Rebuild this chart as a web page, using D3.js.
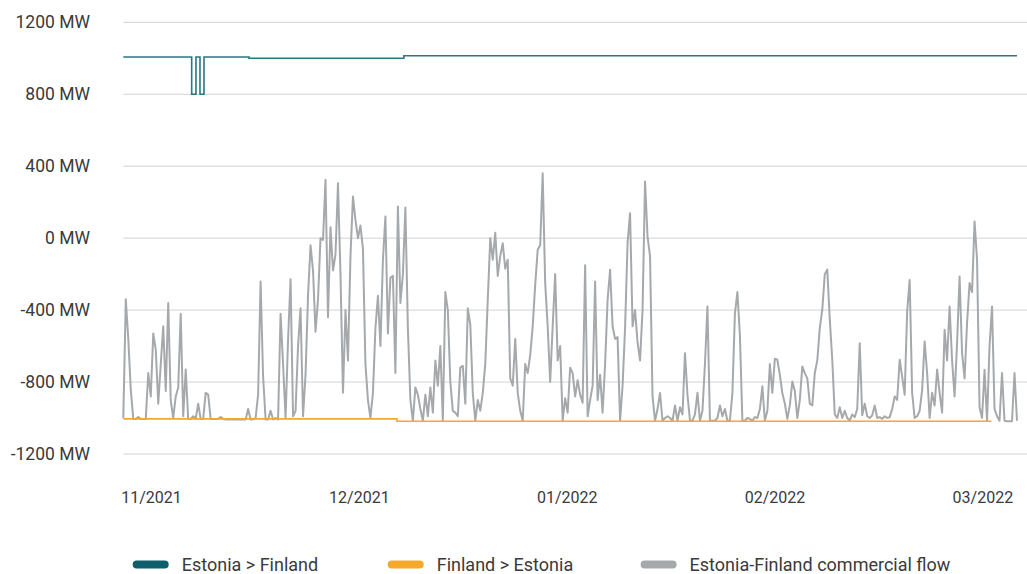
<!DOCTYPE html>
<html>
<head>
<meta charset="utf-8">
<script src="https://cdn.jsdelivr.net/npm/d3@7"></script>
<style>
  body { margin: 0; background: #fff; }
  svg text { font-family: Roboto, "Noto Sans", sans-serif; fill: #3a3a3a; }
</style>
</head>
<body>
<script>
// y axis ticks (MW)
const yTicks = [1200, 800, 400, 0, -400, -800, -1200];

// x axis: days from start of data, labels every 30 days
const totalDays = 129;
const xTickDays = [4, 34, 64, 94, 124];
const xTickLabels = ["11/2021", "12/2021", "01/2022", "02/2022", "03/2022"];

// Estonia > Finland capacity (step changes)
const estFiDay = [0, 9.87, 10.49, 11.07, 11.65, 18.14, 40.5, 129];
const estFiMW = [1007, 800, 1007, 800, 1007, 1000, 1014, 1014];

// Finland > Estonia capacity (negative direction)
const fiEstDay = [0, 39.5, 125.3];
const fiEstMW = [-1005, -1018, -1018];

// Estonia-Finland commercial flow, evenly spaced samples over the whole period
const flowMW = [
  -1000, -340, -560, -843, -1005, -1005, -995, -1005, -1005, -1005,
  -750, -880, -530, -620, -920, -700, -490, -850, -360, -900,
  -1000, -880, -830, -420, -990, -730, -1005, -1005, -990, -1005,
  -920, -1005, -1005, -860, -870, -1005, -1005, -1005, -1005, -995,
  -1005, -1008, -1008, -1008, -1008, -1008, -1008, -1008, -1008, -1008,
  -950, -1008, -1008, -1000, -870, -241, -770, -1008, -1008, -960,
  -1008, -1000, -1008, -420, -700, -1000, -565, -228, -990, -960,
  -600, -390, -990, -760, -320, -40, -180, -520, -340, 0,
  -10, 324, -440, 60, -180, -90, 305, -200, -860, -400,
  -680, -100, 231, 100, 0, 70, -60, -700, -900, -1000,
  -860, -500, -320, -600, -120, 120, -530, -220, -210, -750,
  176, -360, -200, 170, -500,
  -900, -1015, -830, -870, -950,
  -1015, -870, -990, -830, -970, -680, -820, -600, -1015, -300,
  -400, -800, -960, -970, -990, -720, -710, -920, -390, -480,
  -860, -1015, -900, -960, -860, -700, -343, 0, -120, 30,
  -210, -100, -28, -170, -120, -780, -820, -560, -860, -960,
  -1015, -700, -750, -650, -490, -260, -65, -40, 361, -250,
  -490, -800, -490, -200, -680, -600, -1015, -890, -970, -720,
  -750, -880, -790, -870, -915, -150, -990, -900, -820, -241,
  -900, -760, -970, -700, -343, -176, -490, -560, -550, -1015,
  -820, -500, -28, 139, -490, -400, -580, -680, -400, 315,
  9, -100, -880, -1015, -950, -861, -1015, -1000, -990, -1000,
  -1015, -930, -1015, -940, -980, -640, -870, -1015, -1015, -980, -860,
  -1015, -960, -700, -380, -1015, -1015, -1015, -1000, -930,
  -990, -950, -1015, -1015, -860, -420, -300, -540, -1015, -1015,
  -1000, -1005, -1015, -995, -1000, -950, -824, -1015, -960, -700,
  -860, -670, -676, -760, -861, -920, -1005, -930, -797, -850,
  -1000, -900, -713, -750, -780, -920, -930, -750, -680, -500,
  -398, -200, -175, -450, -676, -980, -1000, -940, -1000, -960,
  -1000, -1015, -980, -995, -950, -584, -985, -920, -990, -1000,
  -985, -930, -1000, -995, -1005, -990, -1000, -995, -950, -880,
  -900, -676, -770, -870, -407, -232, -860, -1000, -990, -960,
  -843, -574, -750, -1000, -860, -930, -730, -860, -970, -509,
  -680, -380, -680, -880, -580, -213, -640, -780, -470, -250,
  -300, 93, -120, -940, -1000, -732, -1015, -600, -380, -950,
  -990, -1015, -750, -1015, -1018, -1018, -1018, -750, -1015
];

const legendNames = ["Estonia > Finland", "Finland > Estonia", "Estonia-Finland commercial flow"];
const colors = ["#0d5f6b", "#f3aa2a", "#a6a9ac"];

const width = 1027, height = 574;

const svg = d3.select("body").append("svg")
  .attr("width", width)
  .attr("height", height);

const x = d3.scaleLinear().domain([0, totalDays]).range([123.3, 1017]);
const y = d3.scaleLinear().domain([-1200, 1200]).range([454, 22.3]);
const xFlow = d3.scaleLinear().domain([0, flowMW.length - 1]).range([x(0), x(totalDays)]);

// gridlines
svg.append("g")
  .selectAll("line")
  .data(yTicks)
  .join("line")
  .attr("x1", x(0))
  .attr("x2", width)
  .attr("y1", d => y(d))
  .attr("y2", d => y(d))
  .attr("stroke", "#d3d3d3")
  .attr("stroke-width", 1);

// y axis labels
const yAxis = svg.append("g")
  .attr("transform", "translate(90,0)")
  .call(d3.axisLeft(y).tickValues(yTicks).tickSize(0).tickPadding(0).tickFormat(d => d + " MW"));
yAxis.select(".domain").remove();
yAxis.selectAll("text").style("font-size", "17.5px");

// x axis labels
const xAxis = svg.append("g")
  .attr("transform", "translate(0,489)")
  .call(d3.axisBottom(x).tickValues(xTickDays).tickSize(0).tickPadding(3)
    .tickFormat((d, i) => xTickLabels[i]));
xAxis.select(".domain").remove();
xAxis.selectAll("text").style("font-size", "16px");

// commercial flow
svg.append("path")
  .datum(flowMW)
  .attr("fill", "none")
  .attr("stroke", colors[2])
  .attr("stroke-width", 2)
  .attr("stroke-linejoin", "round")
  .attr("d", d3.line().x((d, i) => xFlow(i)).y(d => y(d)));

// Finland > Estonia
svg.append("path")
  .datum(d3.zip(fiEstDay, fiEstMW))
  .attr("fill", "none")
  .attr("stroke", colors[1])
  .attr("stroke-width", 1.6)
  .attr("d", d3.line().curve(d3.curveStepAfter).x(d => x(d[0])).y(d => y(d[1])));

// Estonia > Finland
svg.append("path")
  .datum(d3.zip(estFiDay, estFiMW))
  .attr("fill", "none")
  .attr("stroke", "#2a7880")
  .attr("stroke-width", 1.6)
  .attr("d", d3.line().curve(d3.curveStepAfter).x(d => x(d[0])).y(d => y(d[1])));

// legend
const legendX = [132.7, 387.7, 640.6];
const legend = svg.append("g")
  .selectAll("g")
  .data(legendNames)
  .join("g")
  .attr("transform", (d, i) => `translate(${legendX[i]},564.5)`);

legend.append("rect")
  .attr("x", 0)
  .attr("y", -4)
  .attr("width", 36)
  .attr("height", 8)
  .attr("rx", 4)
  .attr("fill", (d, i) => colors[i]);

legend.append("text")
  .attr("x", 49)
  .attr("y", 6)
  .style("font-size", "18px")
  .text(d => d);
</script>
</body>
</html>
